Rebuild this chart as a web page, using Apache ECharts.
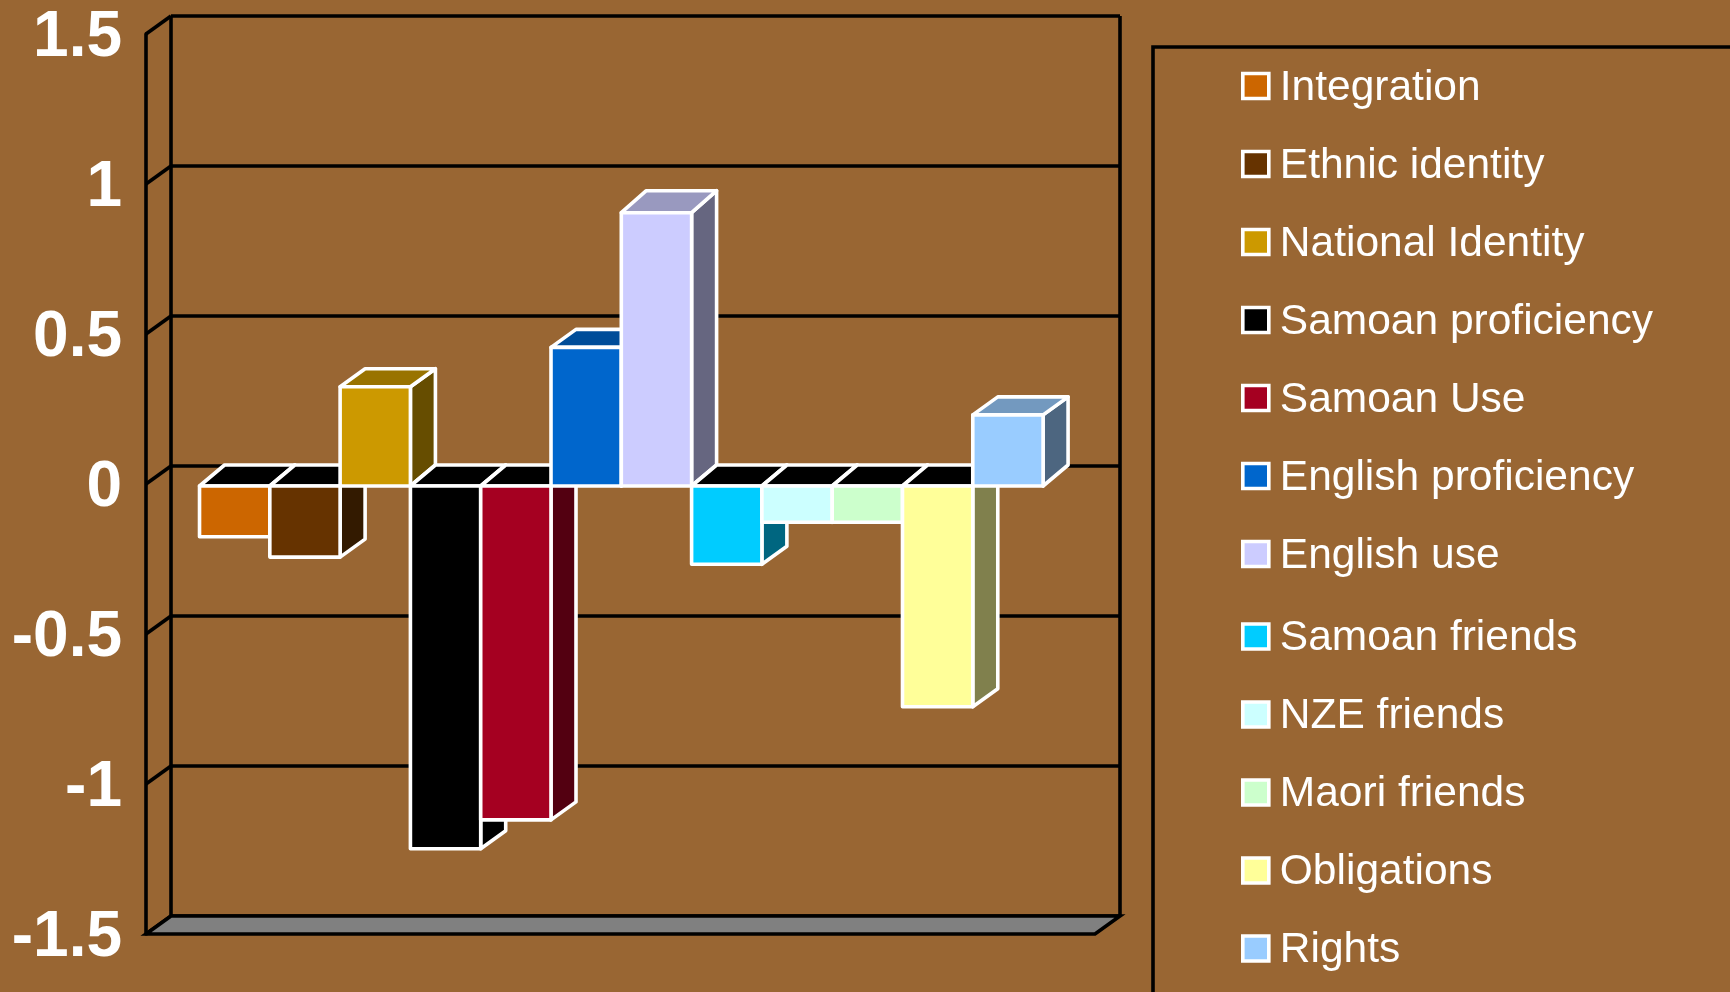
<!DOCTYPE html>
<html>
<head>
<meta charset="utf-8">
<style>html,body{margin:0;padding:0;background:#996633}#c{width:1730px;height:992px}</style>
<script src="https://cdn.jsdelivr.net/npm/echarts@6/dist/echarts.min.js"></script>
</head>
<body>
<div id="c"></div>
<script>
const seriesNames = ['Integration','Ethnic identity','National Identity','Samoan proficiency','Samoan Use','English proficiency','English use','Samoan friends','NZE friends','Maori friends','Obligations','Rights'];
const seriesValues = [-0.169,-0.237,0.331,-1.209,-1.113,0.462,0.911,-0.261,-0.121,-0.121,-0.736,0.237];
const seriesColors = ['#CC6600','#663300','#CC9900','#000000','#A50021','#0066CC','#CCCCFF','#00CCFF','#CCFFFF','#CCFFCC','#FFFF99','#99CCFF'];
const yTicks = [-1.5,-1,-0.5,0,0.5,1,1.5];
const categories = [''];

const FONT = '"Liberation Sans", Arial, sans-serif';
const WALL_DX = 25, WALL_DY = 18, BAR_DX = 25, BAR_DROP = 2, BAR_SHIFT = 0.8, GAP_BARS = 0.75;
const LINE_W = 3.6;

function shade(hex, k){
  const n = parseInt(hex.slice(1),16);
  const c = [n>>16&255,n>>8&255,n&255].map(v=>Math.round(v*k));
  return 'rgb('+c.join(',')+')';
}
function depthAt(v){ return v===0 ? 21 : (v>0.6 ? 22 : 18); }

function barRender(i){
  return function(params, api){
    const v = api.value(1);
    const band = api.size([1,0])[0];
    const c = api.coord([0,0]);
    const w = band/(seriesNames.length+2*GAP_BARS);
    const x1 = c[0]-band/2+GAP_BARS*w+i*w+BAR_SHIFT, x2 = x1+w;
    const y0 = c[1]+BAR_DROP, yv = api.coord([0,v])[1]+BAR_DROP;
    const base = seriesColors[i];
    const stroke = {stroke:'#fff', lineWidth:LINE_W, lineJoin:'round'};
    const poly = (pts,fill)=>({type:'polygon',shape:{points:pts},style:Object.assign({fill:fill},stroke)});
    const d0 = depthAt(0), dv = depthAt(v);
    const topY = Math.min(y0,yv), dTop = v>=0?dv:d0, dEnd = v>=0?d0:dv;
    const botY = Math.max(y0,yv);
    return {type:'group',children:[
      poly([[x2,topY],[x2+BAR_DX,topY-dTop],[x2+BAR_DX,botY-dEnd],[x2,botY]], shade(base,0.5)),
      poly([[x1,topY],[x1+BAR_DX,topY-dTop],[x2+BAR_DX,topY-dTop],[x2,topY]], v<0?'#000':shade(base,0.75)),
      poly([[x1,topY],[x2,topY],[x2,botY],[x1,botY]], base)
    ]};
  };
}
function gridRender(params, api){
  const band = api.size([1,0])[0], c = api.coord([0,api.value(1)]);
  const l = c[0]-band/2, r = c[0]+band/2, y = c[1];
  const s = {stroke:'#000',lineWidth:LINE_W};
  return {type:'group',children:[
    {type:'line',shape:{x1:l,y1:y,x2:l+WALL_DX,y2:y-WALL_DY},style:s},
    {type:'line',shape:{x1:l+WALL_DX,y1:y-WALL_DY,x2:r+WALL_DX,y2:y-WALL_DY},style:s}
  ]};
}
function frameRender(params, api){
  const band = api.size([1,0])[0];
  const t = api.coord([0,yTicks[yTicks.length-1]]), b = api.coord([0,yTicks[0]]);
  const l = b[0]-band/2, r = b[0]+band/2, s = {stroke:'#000',lineWidth:LINE_W};
  return {type:'group',children:[
    {type:'line',shape:{x1:l+WALL_DX,y1:t[1]-WALL_DY,x2:l+WALL_DX,y2:b[1]-WALL_DY},style:s},
    {type:'line',shape:{x1:r+WALL_DX,y1:t[1]-WALL_DY,x2:r+WALL_DX,y2:b[1]-WALL_DY},style:s},
    {type:'polygon',shape:{points:[[l,b[1]],[l+WALL_DX,b[1]-WALL_DY],[r+WALL_DX,b[1]-WALL_DY],[r,b[1]]]},
      style:{fill:'#808080',stroke:'#000',lineWidth:LINE_W}}
  ]};
}
const legendBase = {
  orient:'vertical', left:1241, icon:'rect', itemWidth:26, itemHeight:25, itemGap:35,
  selectedMode:false, padding:0,
  itemStyle:{borderColor:'#fff',borderWidth:LINE_W},
  formatter:'{a|{name}}',
  textStyle:{rich:{a:{color:'#fff',fontFamily:FONT,fontSize:42.5,padding:[4,0,0,6]}}}
};
const series = [
  {type:'custom',name:'walls',silent:true,clip:false,z:1,coordinateSystem:'cartesian2d',renderItem:gridRender,
   data:yTicks.map(v=>[0,v])},
  {type:'custom',name:'frame',silent:true,clip:false,z:1,coordinateSystem:'cartesian2d',renderItem:frameRender,
   data:[[0,0]]}
].concat(seriesNames.map((n,i)=>({
  type:'custom',name:n,clip:false,z:2+i,coordinateSystem:'cartesian2d',renderItem:barRender(i),
  itemStyle:{color:seriesColors[i]},
  data:[[0,seriesValues[i]]]
})));

const chart = echarts.init(document.getElementById('c'),null,{renderer:'canvas'});
chart.setOption({
  animation:false,
  backgroundColor:'#996633',
  tooltip:{show:false},
  grid:{left:146,top:34,width:949,height:900,containLabel:false},
  xAxis:{type:'category',data:categories,show:false},
  yAxis:{type:'value',min:-1.5,max:1.5,interval:0.5,
    axisLine:{show:true,onZero:false,lineStyle:{color:'#000',width:LINE_W}},
    axisTick:{show:false},splitLine:{show:false},
    axisLabel:{margin:24,hideOverlap:false,showMinLabel:true,showMaxLabel:true,
      formatter:'{a|{value}}',
      rich:{a:{color:'#fff',fontFamily:FONT,fontWeight:'bold',fontSize:64,padding:[9,0,0,0]}}}},
  legend:[
    Object.assign({},legendBase,{top:66.5,data:seriesNames.slice(0,7)}),
    Object.assign({},legendBase,{top:617,data:seriesNames.slice(7)})
  ],
  graphic:[{type:'rect',silent:true,z:0,shape:{x:1153,y:47,width:800,height:1100},style:{fill:'none',stroke:'#000',lineWidth:LINE_W}}],
  series:series
});
</script>
</body>
</html>
